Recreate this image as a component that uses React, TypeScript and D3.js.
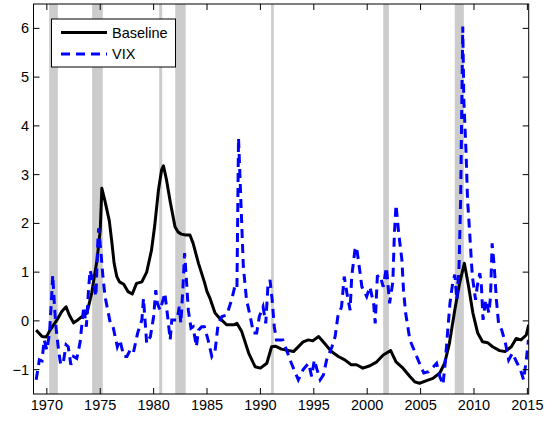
import React from "react";
import * as d3 from "d3";

const baselineYears = [1969.0,1969.55,1969.95,1970.3,1970.95,1971.4,1971.8,1972.1,1972.5,1972.9,1973.3,1973.75,1974.2,1974.7,1975.0,1975.15,1975.45,1975.85,1976.1,1976.3,1976.55,1976.8,1977.2,1977.6,1978.0,1978.4,1978.9,1979.35,1979.8,1980.1,1980.45,1980.75,1980.92,1981.2,1981.55,1982.0,1982.3,1982.6,1983.0,1983.4,1983.7,1984.2,1984.75,1985.0,1985.3,1985.75,1986.2,1986.85,1987.5,1987.8,1988.25,1988.9,1989.5,1990.0,1990.6,1991.05,1991.4,1991.97,1993.1,1994.0,1994.5,1994.9,1995.45,1996.0,1996.65,1997.3,1997.9,1998.5,1999.0,1999.6,2000.25,2000.9,2001.5,2002.2,2002.7,2003.35,2004.0,2004.45,2004.9,2005.5,2006.15,2006.8,2007.25,2007.7,2008.2,2008.65,2009.1,2009.5,2009.9,2010.35,2010.8,2011.3,2011.75,2012.4,2012.9,2013.5,2013.95,2014.4,2014.9,2015.12];
const baselineValues = [-0.19,-0.32,-0.33,-0.19,0.02,0.19,0.29,0.12,-0.04,0.02,0.09,0.16,0.57,1.25,1.86,2.72,2.45,2.05,1.59,1.18,0.91,0.8,0.75,0.6,0.55,0.77,0.8,1.0,1.45,1.95,2.68,3.1,3.18,2.9,2.45,1.93,1.82,1.78,1.76,1.76,1.59,1.18,0.8,0.6,0.45,0.16,0.05,-0.08,-0.08,-0.05,-0.22,-0.66,-0.94,-0.97,-0.87,-0.53,-0.52,-0.58,-0.63,-0.43,-0.39,-0.41,-0.32,-0.46,-0.63,-0.73,-0.8,-0.9,-0.9,-0.97,-0.92,-0.84,-0.7,-0.61,-0.84,-0.97,-1.14,-1.25,-1.28,-1.23,-1.18,-1.07,-0.87,-0.46,0.22,0.77,1.18,0.7,0.16,-0.25,-0.43,-0.45,-0.53,-0.61,-0.63,-0.53,-0.36,-0.39,-0.29,-0.08];

const vixYears = [1969.0,1969.3,1969.55,1969.75,1970.0,1970.25,1970.45,1970.55,1970.7,1970.85,1971.1,1971.3,1971.55,1971.8,1972.0,1972.25,1972.5,1972.8,1973.1,1973.45,1973.7,1973.9,1974.05,1974.35,1974.6,1974.75,1974.85,1975.05,1975.25,1975.45,1975.7,1975.95,1976.2,1976.6,1976.85,1977.2,1977.5,1977.8,1978.1,1978.5,1978.9,1979.05,1979.35,1979.7,1980.0,1980.2,1980.35,1980.6,1980.92,1981.05,1981.35,1981.55,1981.7,1981.9,1982.2,1982.4,1982.55,1982.75,1982.9,1983.05,1983.25,1983.5,1983.7,1984.0,1984.2,1984.5,1984.75,1985.1,1985.45,1985.75,1986.05,1986.4,1986.85,1987.3,1987.6,1987.8,1987.95,1988.25,1988.4,1988.7,1989.05,1989.35,1989.65,1989.9,1990.25,1990.5,1990.7,1990.9,1991.1,1991.3,1991.5,1992.1,1992.45,1992.9,1993.55,1994.0,1994.5,1994.8,1995.05,1995.3,1995.6,1995.9,1996.2,1996.7,1997.0,1997.25,1997.6,1997.85,1998.1,1998.4,1998.55,1998.85,1999.0,1999.3,1999.5,1999.95,2000.25,2000.6,2000.75,2000.95,2001.2,2001.5,2001.8,2002.1,2002.4,2002.55,2002.7,2002.95,2003.25,2003.4,2003.6,2004.0,2004.5,2004.9,2005.3,2005.75,2006.2,2006.5,2006.8,2007.1,2007.3,2007.5,2007.75,2008.0,2008.2,2008.4,2008.6,2008.75,2008.95,2009.05,2009.25,2009.4,2009.6,2009.75,2009.85,2010.15,2010.3,2010.55,2010.7,2010.85,2011.1,2011.4,2011.55,2011.7,2011.9,2012.1,2012.3,2012.6,2012.95,2013.25,2013.6,2014.05,2014.35,2014.65,2014.9,2015.1];
const vixValues = [-1.21,-0.8,-0.82,-0.39,-0.6,-0.25,0.5,0.94,0.36,-0.12,-0.6,-0.9,-0.84,-0.49,-0.53,-0.9,-0.73,-0.77,-0.46,0.29,-0.12,0.63,1.04,0.77,0.5,1.52,1.9,1.45,0.91,0.5,0.22,-0.05,-0.12,-0.53,-0.39,-0.73,-0.73,-0.6,-0.66,-0.25,0.02,0.46,-0.46,-0.32,0.09,0.63,0.36,0.22,0.46,0.57,0.02,-0.39,0.02,0.02,0.02,0.29,-0.05,0.7,1.39,0.91,0.22,-0.15,-0.12,-0.53,-0.19,-0.12,-0.12,-0.39,-0.73,-0.62,-0.05,0.09,0.12,0.43,0.7,0.65,3.75,2.0,1.11,0.43,0.09,-0.25,-0.25,0.09,0.29,-0.05,0.7,0.84,0.43,-0.12,-0.39,-0.39,-0.6,-0.87,-1.21,-1.0,-0.87,-1.14,-0.8,-1.0,-1.21,-1.11,-0.8,-0.53,-0.32,0.09,0.29,0.91,0.57,0.22,0.91,1.45,1.52,1.04,0.7,0.5,0.7,0.36,-0.05,0.91,0.94,0.7,1.1,0.36,0.8,1.8,2.38,1.8,1.25,0.63,0.16,-0.39,-0.66,-0.87,-1.07,-1.04,-0.94,-0.87,-1.14,-1.31,-0.87,-0.32,0.36,0.77,0.95,0.43,1.11,2.48,6.04,4.53,3.5,2.48,1.8,1.25,0.91,0.43,0.7,0.98,0.7,0.02,0.43,0.16,0.5,1.59,1.11,0.43,-0.05,-0.19,-0.46,-0.8,-0.66,-0.87,-1.0,-1.21,-0.8,-0.39];

const recessionStarts = [1970.22, 1974.24, 1980.52, 1982.02, 1991.0, 2001.5, 2008.2];
const recessionEnds = [1971.03, 1975.24, 1980.8, 1983.0, 1991.25, 2002.03, 2009.05];

const xTicks = [1970, 1975, 1980, 1985, 1990, 1995, 2000, 2005, 2010, 2015];
const yTicks = [-1, 0, 1, 2, 3, 4, 5, 6];
const seriesNames = ["Baseline", "VIX"];

export default function App() {
  const W = 558, H = 422;
  const left = 33.5, right = 528.7, top = 4, bottom = 394;
  const x = d3.scaleLinear().domain([1968.75, 2015.125]).range([left, right]);
  const y = d3.scaleLinear().domain([-1.5, 6.5]).range([bottom, top]);
  const line = d3.line<[number, number]>().x(d => x(d[0])).y(d => y(d[1]));
  const basePath = line(baselineYears.map((t, i) => [t, baselineValues[i]]) as [number, number][]) || "";
  const vixPath = line(vixYears.map((t, i) => [t, vixValues[i]]) as [number, number][]) || "";
  const font = "'Liberation Sans', Arial, Helvetica, sans-serif";
  const tl = 6;
  return (
    <svg width={W} height={H} style={{ position: "absolute", left: 0, top: 0, background: "#fff" }}>
      <rect x={0} y={0} width={W} height={H} fill="#fff" />
      <defs>
        <clipPath id="plotclip">
          <rect x={left} y={top} width={right - left} height={bottom - top} />
        </clipPath>
      </defs>
      {recessionStarts.map((s, i) => (
        <rect key={i} x={x(s)} y={top} width={x(recessionEnds[i]) - x(s)} height={bottom - top} fill="#cccccc" />
      ))}
      <g clipPath="url(#plotclip)">
        <path d={basePath} fill="none" stroke="#000" strokeWidth={3} strokeLinejoin="round" />
        <path d={vixPath} fill="none" stroke="#0000ff" strokeWidth={3} strokeDasharray="9,6" />
      </g>
      {xTicks.map(t => (
        <g key={t}>
          <line x1={x(t)} x2={x(t)} y1={bottom} y2={bottom - tl} stroke="#000" strokeWidth={1} />
          <line x1={x(t)} x2={x(t)} y1={top} y2={top + tl} stroke="#000" strokeWidth={1} />
          <text x={x(t)} y={410} textAnchor="middle" fontFamily={font} fontSize={14.5} fill="#000">{t}</text>
        </g>
      ))}
      {yTicks.map(t => (
        <g key={t}>
          <line x1={left} x2={left + tl} y1={y(t)} y2={y(t)} stroke="#000" strokeWidth={1} />
          <line x1={right} x2={right - tl} y1={y(t)} y2={y(t)} stroke="#000" strokeWidth={1} />
          <text x={29} y={y(t) + 5} textAnchor="end" fontFamily={font} fontSize={14.5} fill="#000">{t === -1 ? "\u22121" : t}</text>
        </g>
      ))}
      <rect x={left} y={top} width={right - left} height={bottom - top} fill="none" stroke="#000" strokeWidth={1} />
      <g>
        <rect x={51.5} y={19} width={124} height={48} fill="#fff" stroke="#000" strokeWidth={1} />
        <line x1={61} x2={107} y1={32.5} y2={32.5} stroke="#000" strokeWidth={3} />
        <line x1={61} x2={107} y1={54} y2={54} stroke="#0000ff" strokeWidth={3} strokeDasharray="9,6" />
        <text x={112} y={37.5} fontFamily={font} fontSize={14.5} fill="#000">{seriesNames[0]}</text>
        <text x={112} y={59} fontFamily={font} fontSize={14.5} fill="#000">{seriesNames[1]}</text>
      </g>
    </svg>
  );
}
